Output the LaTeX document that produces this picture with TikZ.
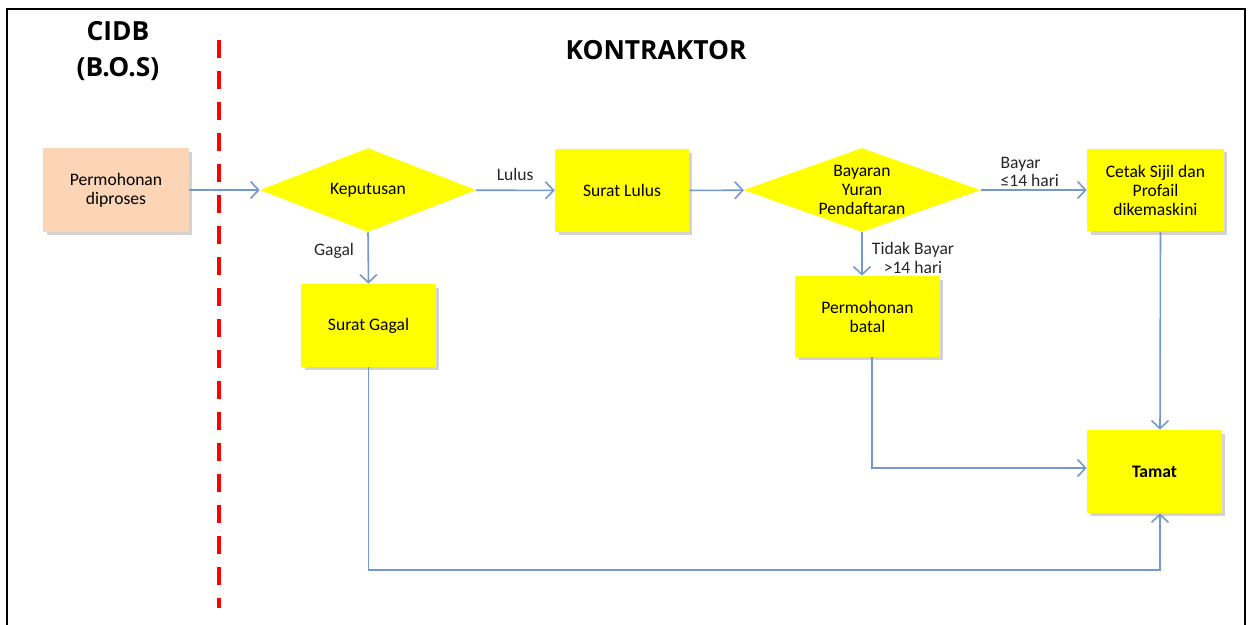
\documentclass[tikz,border=0pt]{standalone}
\usepackage{fontspec}
\setmainfont{Carlito}
\newfontfamily\headfont{Open Sans}
\usetikzlibrary{shapes.geometric, shadows, arrows.meta}

\definecolor{boxyellow}{HTML}{FFFF00}
\definecolor{peach}{HTML}{FBD5B5}
\definecolor{linkblue}{HTML}{7199D0}
\definecolor{cutred}{HTML}{FF0000}

\tikzset{
  procbox/.style={fill=boxyellow, minimum width=2.7cm, minimum height=1.66cm,
    align=center, inner sep=0pt, font=\fontsize{10}{10.8}\selectfont,
    drop shadow={shadow xshift=0.07cm, shadow yshift=-0.07cm, opacity=0.35}},
  choice/.style={diamond, fill=boxyellow, minimum height=1.68cm, inner sep=0pt},
  choicetext/.style={align=center, font=\fontsize{10}{10.8}\selectfont},
  heading/.style={align=center, font=\headfont\bfseries\fontsize{15}{20}\selectfont},
  linklabel/.style={font=\fontsize{10}{10.5}\selectfont, text=black!85},
  link/.style={draw=linkblue, line width=0.9pt,
    -{Straight Barb[length=1.6mm, width=3.4mm]}}
}

\begin{document}
\begin{tikzpicture}[x=0.02cm, y=-0.02cm]

\useasboundingbox (0,0) rectangle (1248,625);

% frame and divider
\draw [line width=1.2pt] (7,640) -- (7,9) -- (1245,9) -- (1245,640);
\draw [cutred, line width=0.09cm, dash pattern=on 0.37cm off 0.25cm] (219,40) -- (219,608);

\node [heading] (cidb) at (118,51) {CIDB\\(B.O.S)};
\node [heading] (kontraktor) at (656,50) {KONTRAKTOR};

% boxes
\node [procbox, fill=peach, minimum width=2.92cm, minimum height=1.68cm] (perm) at (116,190) {Permohonan\\diproses};
\node [choice, minimum width=4.32cm] (kep) at (368,190) {};
\node [choicetext] (kept) at (kep) {Keputusan};
\node [procbox, minimum width=2.68cm] (lulus) at (622,190.5) {Surat Lulus};
\node [choice, minimum width=4.74cm] (bay) at (862,190) {};
\node [choicetext] (bayt) at (bay) {Bayaran\\Yuran\\Pendaftaran};
\node [procbox, minimum width=2.74cm] (cetak) at (1155.5,190) {Cetak Sijil dan\\Profail\\dikemaskini};
\node [procbox] (gagal) at (368.5,325.5) {Surat Gagal};
\node [procbox, minimum width=2.9cm, minimum height=1.62cm] (batal) at (867.5,316.5) {Permohonan\\batal};
\node [procbox, font=\bfseries\fontsize{10}{13}\selectfont] (tamat) at (1154.5,471.5) {Tamat};

\coordinate (bottom) at (760,570);

% connectors
\begin{scope}
\draw [link] (perm) -- (kep);
\draw [link] (kep) -- (lulus) node [midway, above=2pt, linklabel] {Lulus};
\draw [link] (lulus) -- (bay);
\draw [link] (bay) -- (cetak) node [linklabel, align=left, anchor=west] at (994,172) {Bayar\\≤14 hari};
\draw [link] (kep.south) -- (gagal.north) node [linklabel] at (334,251) {Gagal};
\draw [link] (bay.south) -- (bay.south |- batal.north) node [linklabel, align=center] at (913,258) {Tidak Bayar\\>14 hari};
\draw [link] ([xshift=0.1cm]cetak.south) -- ([xshift=0.11cm]tamat.north);
\draw [link] ([xshift=0.09cm]batal.south) |- ([yshift=0.07cm]tamat.west);
\draw [link] (gagal.south) |- (bottom) -| ([xshift=0.11cm]tamat.south);
\end{scope}

\end{tikzpicture}
\end{document}
